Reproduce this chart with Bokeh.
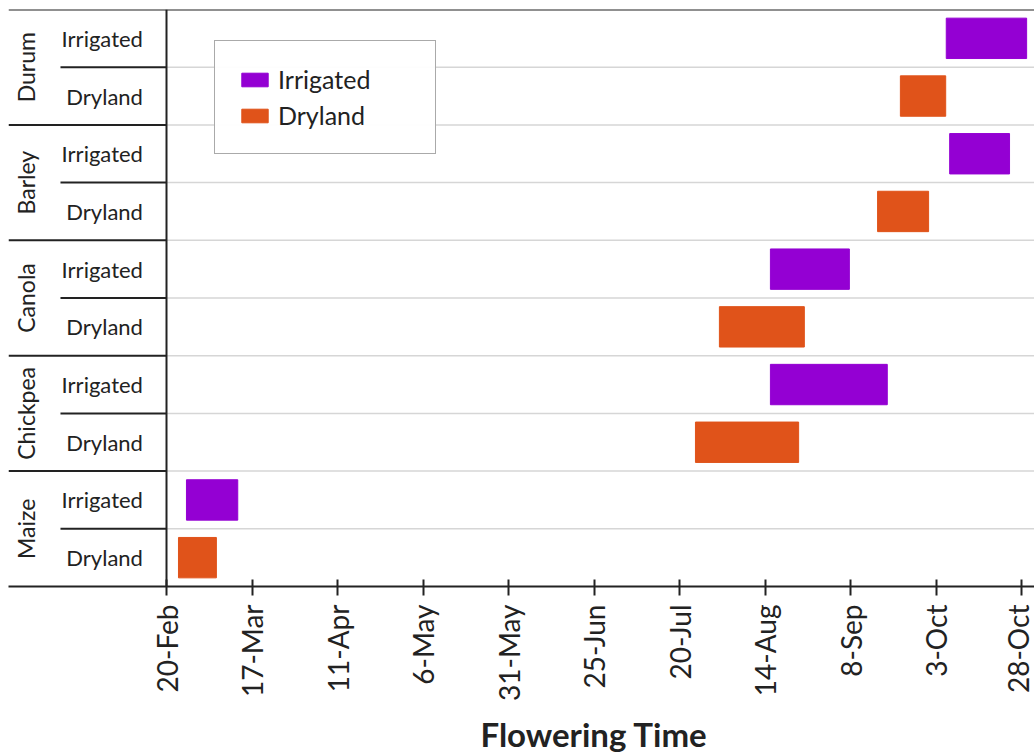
import math
import pandas as pd
from bokeh.plotting import figure
from bokeh.models import Range1d, FixedTicker, ColumnDataSource, Legend, LegendItem, Title
from bokeh.core.properties import value
from bokeh.embed import file_html
from bokeh.resources import INLINE

# ---- data ----
crops = ["Durum", "Barley", "Canola", "Chickpea", "Maize"]
systems = ["Irrigated", "Dryland"]
irrigated_start = ["2019-10-06T00:00", "2019-10-07T00:00", "2019-08-15T14:00", "2019-08-15T14:00", "2019-02-25T20:00"]
irrigated_end = ["2019-10-29T12:00", "2019-10-24T12:00", "2019-09-07T16:00", "2019-09-18T18:00", "2019-03-12T20:00"]
dryland_start = ["2019-09-22T14:00", "2019-09-15T22:00", "2019-07-31T16:00", "2019-07-24T16:00", "2019-02-23T12:00"]
dryland_end = ["2019-10-05T20:00", "2019-09-30T20:00", "2019-08-25T12:00", "2019-08-23T20:00", "2019-03-06T14:00"]
tick_dates = ["2019-02-20", "2019-03-17", "2019-04-11", "2019-05-06", "2019-05-31", "2019-06-25",
              "2019-07-20", "2019-08-14", "2019-09-08", "2019-10-03", "2019-10-28"]
tick_labels = ["20-Feb", "17-Mar", "11-Apr", "6-May", "31-May", "25-Jun",
               "20-Jul", "14-Aug", "8-Sep", "3-Oct", "28-Oct"]
x_title = "Flowering Time"

FONT = "Lato"
INK = "#222222"
PURPLE = "#9400D3"
ORANGE = "#E0531A"

origin = pd.Timestamp(tick_dates[0])
day = pd.Timedelta(days=1)
x_start = origin - 46.2 * day
x_end = origin + 253.8 * day
n_rows = len(crops) * len(systems)

p = figure(frame_width=1026, frame_height=577, x_axis_type="datetime",
           x_range=Range1d(x_start, x_end), y_range=Range1d(0, n_rows),
           output_backend="svg", toolbar_location=None,
           min_border_left=8, min_border_right=0, min_border_top=9, min_border_bottom=0)
p.outline_line_color = None
p.grid.visible = False
p.yaxis.visible = False

# row centres (top to bottom)
def yc(ci, si):
    return n_rows - (ci * len(systems) + si) - 0.5

# light horizontal grid lines inside the chart area
gy = list(range(1, n_rows))
p.segment(x0=[origin] * len(gy), y0=gy, x1=[x_end] * len(gy), y1=gy, line_color="#d6d6d6", line_width=1.5)

src_i = ColumnDataSource(dict(y=[yc(i, 0) for i in range(len(crops))],
                              left=pd.to_datetime(irrigated_start, format="ISO8601"),
                              right=pd.to_datetime(irrigated_end, format="ISO8601")))
src_d = ColumnDataSource(dict(y=[yc(i, 1) for i in range(len(crops))],
                              left=pd.to_datetime(dryland_start, format="ISO8601"),
                              right=pd.to_datetime(dryland_end, format="ISO8601")))
r_i = p.hbar(y="y", left="left", right="right", height=0.7, source=src_i,
             fill_color=PURPLE, line_color=PURPLE, line_width=1)
r_d = p.hbar(y="y", left="left", right="right", height=0.7, source=src_d,
             fill_color=ORANGE, line_color=ORANGE, line_width=1)

# frame lines
p.segment(x0=[x_start], y0=[n_rows], x1=[x_end], y1=[n_rows], line_color=INK, line_width=2)
p.segment(x0=[origin], y0=[0], x1=[origin], y1=[n_rows], line_color=INK, line_width=2)
cy = [n_rows - 2 * k for k in range(1, len(crops))]
p.segment(x0=[x_start] * len(cy), y0=cy, x1=[origin] * len(cy), y1=cy, line_color=INK, line_width=2)
sy = [n_rows - 2 * k - 1 for k in range(len(crops))]
p.segment(x0=[origin - 31 * day] * len(sy), y0=sy, x1=[origin] * len(sy), y1=sy, line_color=INK, line_width=2)

# category labels
sub_y = [yc(i, j) for i in range(len(crops)) for j in range(len(systems))]
sub_t = [s for _ in crops for s in systems]
p.text(x=[origin - 6.9 * day] * len(sub_y), y=sub_y, text=sub_t, text_align="right",
       text_baseline="middle", text_font=value(FONT), text_font_size="22px", text_color=INK)
crop_y = [n_rows - 2 * i - 1 for i in range(len(crops))]
p.text(x=[origin - 41.2 * day] * len(crops), y=crop_y, text=crops, angle=math.pi / 2,
       text_align="center", text_baseline="middle", text_font=value(FONT),
       text_font_size="23px", text_color=INK)

# x axis
ticks_ms = [int(pd.Timestamp(d).value // 10**6) for d in tick_dates]
ax = p.xaxis[0]
ax.ticker = FixedTicker(ticks=ticks_ms)
ax.major_label_overrides = {t: l for t, l in zip(ticks_ms, tick_labels)}
ax.major_label_orientation = math.pi / 2
ax.major_label_text_font = FONT
ax.major_label_text_font_size = "28px"
ax.major_label_text_color = INK
ax.major_label_standoff = 9
ax.major_tick_in = 7
ax.major_tick_out = 9
ax.major_tick_line_width = 2
ax.major_tick_line_color = INK
ax.minor_tick_line_color = None
ax.axis_line_width = 2
ax.axis_line_color = INK

# axis title, centred under the date area (right of the category labels)
p.add_layout(Title(text=x_title, align="left", offset=472, standoff=16,
                   text_font=FONT, text_font_style="bold", text_font_size="33px",
                   text_color=INK), "below")

legend = Legend(items=[LegendItem(label="Irrigated", renderers=[r_i]),
                       LegendItem(label="Dryland", renderers=[r_d])],
                location=(206, 432))
legend.border_line_color = "#555555"
legend.border_line_width = 1.5
legend.padding = 23
legend.spacing = 6
legend.margin = 0
legend.label_text_font = FONT
legend.label_text_font_size = "25px"
legend.label_text_color = INK
legend.glyph_width = 33
legend.glyph_height = 17
legend.label_width = 134
legend.label_standoff = 7
p.add_layout(legend)

open("out.html", "w").write(file_html(p, INLINE))
